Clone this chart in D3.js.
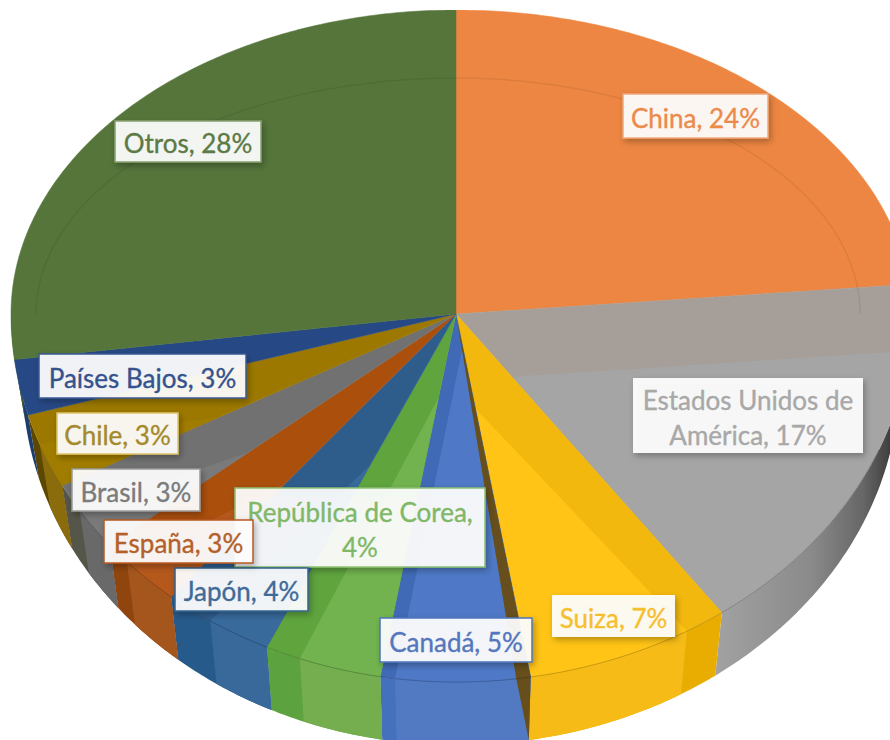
<!DOCTYPE html>
<html>
<head>
<meta charset="utf-8">
<script src="https://cdn.jsdelivr.net/npm/d3@7"></script>
<style>
  html, body { margin: 0; padding: 0; background: #fff; }
  svg { display: block; }
  text { font-family: Lato, "Open Sans", sans-serif; font-size: 26px; stroke-width: 0.35px; }
</style>
</head>
<body>
<script>
// slice order runs clockwise from 12 o'clock
const countries = ["China", "Estados Unidos de América", "Suiza", "Canadá", "República de Corea", "Japón", "España", "Brasil", "Chile", "Países Bajos", "Otros"];
const shares = [23.9, 16.95, 7.45, 5.45, 4.35, 4.15, 3.2, 3.15, 3.35, 2.5, 27.5];

const labelLines = [
  null, ["Estados Unidos de", "América, "], null, null, ["República de Corea,", ""],
  null, null, null, null, null, null
];
// x0, y0, x1, y1
const labelBoxes = [
  [623, 94, 768, 138], [633, 378, 863, 453], [552, 595, 675, 637], [380, 618, 532, 662],
  [235, 488, 485, 567], [175, 568, 308, 611], [104, 520, 253, 563], [72, 469, 200, 511],
  [57, 413, 178, 454], [39, 354, 246, 398], [115, 121, 261, 162]
];
const drawOrder = [0, 1, 2, 4, 3, 5, 6, 7, 8, 9, 10];

const topBase = ["#ed8642", "#a69e98", "#f3b80c", "#3f6bb5", "#5ea43c", "#2d5d8c", "#ab4f10", "#717171", "#9c7800", "#264a85", "#55753b"];
const topFacet = [null, "#a5a5a5", "#ffc417", "#5079c6", "#72b350", "#386a9c", "#b5591a", "#7a7a7a", "#a07c06", null, null];
const sideBase = [null, "url(#graySide)", "#e8ad06", "#4470bc", "#5ca33f", "#285a8a", "#8f4410", "#55544a", "#5c4700", "#1e3c6e", "#44602f"];
const sideFacet = [null, null, "#f6bb14", "#517ac3", "#74ae50", "#39699a", "#a5561f", "#696969", "#8b6c10", null, null];
const textColor = ["#ec8a4a", "#a8a8a8", "#f6bf2e", "#5577bd", "#80b868", "#3f6b98", "#b4602a", "#7b7b7b", "#a58a2c", "#35528c", "#5c7a45"];
const borderColor = ["#f0a878", null, null, "#4f76bd", "#8cc070", "#33638f", "#b85a20", "#9a9a9a", "#e0c46a", "#3a5a94", "#88a070"];

// part of the rim the lighter facet covers, and where its inner tip sits
const facetArc = [null, [0.19, 1], [0.2, 1], [0, 0.9], [0, 0.7], [0, 0.57], [0, 0.7], [0, 0.6], [0, 0.6], null, null];
const facetTip = [null, 0.21, 0.26, 0.09, 0.23, 0.45, 0.6, 0.6, 0.6, null, null];

const width = 890, height = 740;
const cx = 456, cy = 314;
const rxLeft = 445, rxRight = 455, ryBack = 304, ryFront = 368;
const depth = 63, bottomScale = 0.975;

function rim(a, r = 1) {
  const s = Math.sin(a), c = Math.cos(a);
  return [cx + r * s * (s > 0 ? rxRight : rxLeft), cy - r * c * (c > 0 ? ryBack : ryFront)];
}
function bottom(a) {
  const p = rim(a);
  return [cx + (p[0] - cx) * bottomScale, p[1] + depth];
}
function arcPoints(a0, a1, f = rim) {
  const n = Math.max(2, Math.ceil(Math.abs(a1 - a0) / 0.01));
  return d3.range(n + 1).map(i => f(a0 + (a1 - a0) * i / n));
}

const line = d3.line();
const pie = d3.pie().sort(null);
const slices = pie(shares);

const svg = d3.select("body").append("svg")
  .attr("width", width)
  .attr("height", height);

const defs = svg.append("defs");
defs.append("clipPath").attr("id", "frame")
  .append("rect").attr("x", 0).attr("y", 10).attr("width", width).attr("height", height - 10);

const grad = defs.append("linearGradient").attr("id", "graySide").attr("gradientUnits", "userSpaceOnUse")
  .attr("x1", 715).attr("y1", 0).attr("x2", 890).attr("y2", 0);
grad.append("stop").attr("offset", "0").attr("stop-color", "#a2a2a2");
grad.append("stop").attr("offset", "0.55").attr("stop-color", "#8a8a8a");
grad.append("stop").attr("offset", "0.85").attr("stop-color", "#666");
grad.append("stop").attr("offset", "1").attr("stop-color", "#3f3f3f");

const soft = defs.append("filter").attr("id", "soft");
soft.append("feGaussianBlur").attr("stdDeviation", 0.6);

const shadow = defs.append("filter").attr("id", "shadow")
  .attr("x", "-10%").attr("y", "-15%").attr("width", "125%").attr("height", "140%");
shadow.append("feDropShadow").attr("dx", 2).attr("dy", 3).attr("stdDeviation", 3)
  .attr("flood-color", "#000").attr("flood-opacity", 0.3);

const chart = svg.append("g").attr("clip-path", "url(#frame)");
const body = chart.append("g").attr("filter", "url(#soft)");

// walls first, the top face goes over them
slices.forEach((d, i) => {
  if (!sideBase[i]) return;
  const a0 = Math.max(d.startAngle, Math.PI / 2);
  const a1 = Math.min(d.endAngle, Math.PI * 1.5);
  if (a1 <= a0) return;
  const wall = (s, e, fill) => body.append("path")
    .attr("d", line(arcPoints(s, e).concat(arcPoints(e, s, bottom))) + "Z")
    .attr("fill", fill);
  wall(a0, a1, sideBase[i]);
  if (facetArc[i] && sideFacet[i]) {
    const w = d.endAngle - d.startAngle;
    wall(Math.max(a0, d.startAngle + w * facetArc[i][0]), Math.min(a1, d.startAngle + w * facetArc[i][1]), sideFacet[i]);
  }
});

// top face
slices.forEach((d, i) => {
  body.append("path")
    .attr("d", line([[cx, cy]].concat(arcPoints(d.startAngle, d.endAngle))) + "Z")
    .attr("fill", topBase[i])
    .attr("stroke", topBase[i])
    .attr("stroke-width", 0.5);
  if (facetArc[i]) {
    const w = d.endAngle - d.startAngle;
    const [f0, f1] = facetArc[i];
    const tipAngle = f0 === 0 ? d.startAngle : d.endAngle;
    const pts = arcPoints(d.startAngle + w * f0, d.startAngle + w * f1);
    pts.push(rim(tipAngle, facetTip[i]));
    body.append("path")
      .attr("d", line(pts) + "Z")
      .attr("fill", topFacet[i]);
  }
});

// dark cut face showing between Suiza and Canadá
const cut = slices[2].endAngle;
const cutAngle = cut + 0.032;
body.append("path")
  .attr("d", line([[cx, cy], rim(cut), bottom(cut), rim(cutAngle)]) + "Z")
  .attr("fill", "#66501a");

// faint inner ring on the back half, darker edge on the front rim
body.append("path")
  .attr("d", line(arcPoints(-Math.PI / 2, Math.PI / 2, a => [cx + (a < 0 ? 420 : 404) * Math.sin(a), cy - 236 * Math.cos(a)])))
  .attr("fill", "none")
  .attr("stroke", "#000")
  .attr("stroke-opacity", 0.07)
  .attr("stroke-width", 1.5);
body.append("path")
  .attr("d", line(arcPoints(Math.PI * 0.62, Math.PI * 1.32)))
  .attr("fill", "none")
  .attr("stroke", "#000")
  .attr("stroke-opacity", 0.2)
  .attr("stroke-width", 1);

// data labels
const labels = chart.append("g");
drawOrder.forEach(i => {
  const [x0, y0, x1, y1] = labelBoxes[i];
  const g = labels.append("g");
  g.append("rect")
    .attr("x", x0).attr("y", y0)
    .attr("width", x1 - x0).attr("height", y1 - y0)
    .attr("fill", "#fff")
    .attr("fill-opacity", 0.92)
    .attr("stroke", borderColor[i] || "none")
    .attr("stroke-width", 1.5)
    .attr("filter", "url(#shadow)");
  const pct = Math.round(shares[i]) + "%";
  const lines = labelLines[i]
    ? [labelLines[i][0], labelLines[i][1] + pct]
    : [countries[i] + ", " + pct];
  const lineHeight = 35;
  const midY = (y0 + y1) / 2 + 2;
  lines.forEach((t, k) => {
    g.append("text")
      .attr("x", (x0 + x1) / 2)
      .attr("y", midY + (k - (lines.length - 1) / 2) * lineHeight)
      .attr("dy", "0.38em")
      .attr("text-anchor", "middle")
      .attr("fill", textColor[i])
      .attr("stroke", textColor[i])
      .text(t);
  });
});
</script>
</body>
</html>
